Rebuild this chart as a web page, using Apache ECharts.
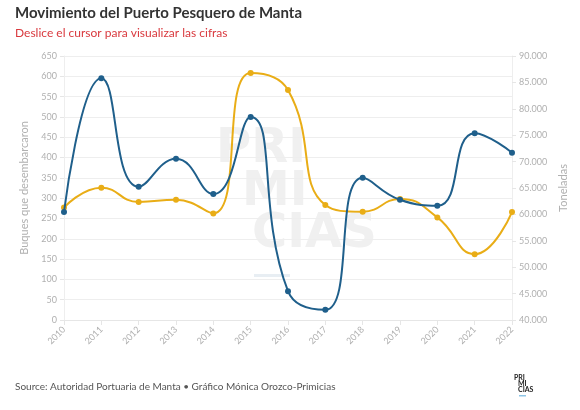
<!DOCTYPE html>
<html>
<head>
<meta charset="utf-8">
<script src="https://cdn.jsdelivr.net/npm/echarts@6/dist/echarts.min.js"></script>
<style>
  html, body { margin: 0; padding: 0; background: #fff; }
  #chart { width: 580px; height: 410px; }
</style>
</head>
<body>
<div id="chart"></div>
<script>
var years = ['2010', '2011', '2012', '2013', '2014', '2015', '2016', '2017', '2018', '2019', '2020', '2021', '2022'];
// Buques que desembarcaron (left axis)
var buques = [266, 595, 328, 397, 310, 500, 71, 25, 350, 296, 281, 460, 412];
// Toneladas (right axis)
var toneladas = [61300, 65070, 62350, 62790, 60190, 86770, 83540, 61780, 60510, 62920, 59430, 52470, 60450];

var chartDom = document.getElementById('chart');
var myChart = echarts.init(chartDom);
var font = 'Lato';
var gray = '#b0b0b0';

function thousands(v) {
  return String(v).replace(/\B(?=(\d{3})+(?!\d))/g, '.');
}

var option = {
  backgroundColor: '#fff',
  animation: false,
  textStyle: { fontFamily: font },
  title: [
    {
      text: 'Movimiento del Puerto Pesquero de Manta',
      left: 10, top: 1,
      textStyle: { fontSize: 15, fontWeight: 'bold', color: '#333', fontFamily: font }
    },
    {
      text: 'Deslice el cursor para visualizar las cifras',
      left: 10, top: 22,
      textStyle: { fontSize: 12, fontWeight: 'normal', color: '#d9393e', fontFamily: font }
    },
    {
      text: 'Source: Autoridad Portuaria de Manta \u2022 Gráfico Mónica Orozco-Primicias',
      left: 10, top: 377,
      textStyle: { fontSize: 10, fontWeight: 'normal', color: '#555', fontFamily: font }
    }
  ],
  graphic: [
    // watermark
    { type: 'text', left: 216, top: 126, z: -1, silent: true,
      style: { text: 'PRI', fontSize: 48, fontWeight: 'bold', fill: '#f0f0f0', fontFamily: 'DejaVu Sans' } },
    { type: 'text', left: 242, top: 169, z: -1, silent: true,
      style: { text: 'MI', fontSize: 48, fontWeight: 'bold', fill: '#f0f0f0', fontFamily: 'DejaVu Sans' } },
    { type: 'text', left: 252, top: 211, z: -1, silent: true,
      style: { text: 'CIAS', fontSize: 48, fontWeight: 'bold', fill: '#f0f0f0', fontFamily: 'DejaVu Sans' } },
    { type: 'rect', left: 254, top: 274, z: -1, silent: true,
      shape: { width: 36, height: 3 }, style: { fill: '#e8eef3' } },
    // logo
    { type: 'text', left: 514, top: 374,
      style: { text: 'PRI', fontSize: 7, fontWeight: 'bold', fill: '#222', fontFamily: font } },
    { type: 'text', left: 518, top: 380,
      style: { text: 'MI', fontSize: 7, fontWeight: 'bold', fill: '#222', fontFamily: font } },
    { type: 'text', left: 518, top: 386,
      style: { text: 'CIAS', fontSize: 7, fontWeight: 'bold', fill: '#222', fontFamily: font } },
    { type: 'rect', left: 519, top: 395, shape: { width: 7, height: 1.5 }, style: { fill: '#8ec5e6' } }
  ],
  grid: { left: 64, right: 68, top: 56, bottom: 90 },
  xAxis: {
    type: 'category',
    data: years,
    boundaryGap: false,
    axisLine: { lineStyle: { color: '#e6e6e6' } },
    axisTick: { show: true, lineStyle: { color: '#e6e6e6' } },
    axisLabel: { rotate: 45, color: gray, fontSize: 9, margin: 8 },
    splitLine: { show: false }
  },
  yAxis: [
    {
      type: 'value',
      min: 0, max: 650, interval: 50,
      name: 'Buques que desembarcaron',
      nameLocation: 'middle',
      nameGap: 30,
      nameTextStyle: { color: gray, fontSize: 11 },
      axisLine: { show: true, lineStyle: { color: '#eeeeee' } },
      axisTick: { show: true, length: 4, lineStyle: { color: '#e6e6e6' } },
      axisLabel: { color: gray, fontSize: 9, margin: 7 },
      splitLine: { lineStyle: { color: '#eeeeee' } }
    },
    {
      type: 'value',
      min: 40000, max: 90000, interval: 5000,
      name: 'Toneladas',
      nameLocation: 'middle',
      nameGap: 40,
      nameRotate: 90,
      nameTextStyle: { color: gray, fontSize: 11 },
      axisLine: { show: true, lineStyle: { color: '#eeeeee' } },
      axisTick: { show: true, length: 4, lineStyle: { color: '#e6e6e6' } },
      axisLabel: { color: gray, fontSize: 9, margin: 7, formatter: thousands },
      splitLine: { show: false }
    }
  ],
  series: [
    {
      name: 'Buques que desembarcaron',
      type: 'line',
      yAxisIndex: 0,
      data: buques,
      smooth: 0.5,
      symbol: 'circle',
      symbolSize: 6,
      lineStyle: { width: 2, color: '#1f5f8b' },
      itemStyle: { color: '#1f5f8b' },
      z: 3
    },
    {
      name: 'Toneladas',
      type: 'line',
      yAxisIndex: 1,
      data: toneladas,
      smooth: 0.5,
      symbol: 'circle',
      symbolSize: 6,
      lineStyle: { width: 2, color: '#e9ad16' },
      itemStyle: { color: '#e9ad16' },
      z: 2
    }
  ]
};

option && myChart.setOption(option);

window.addEventListener('resize', function () {
  myChart.resize();
});
</script>
</body>
</html>
